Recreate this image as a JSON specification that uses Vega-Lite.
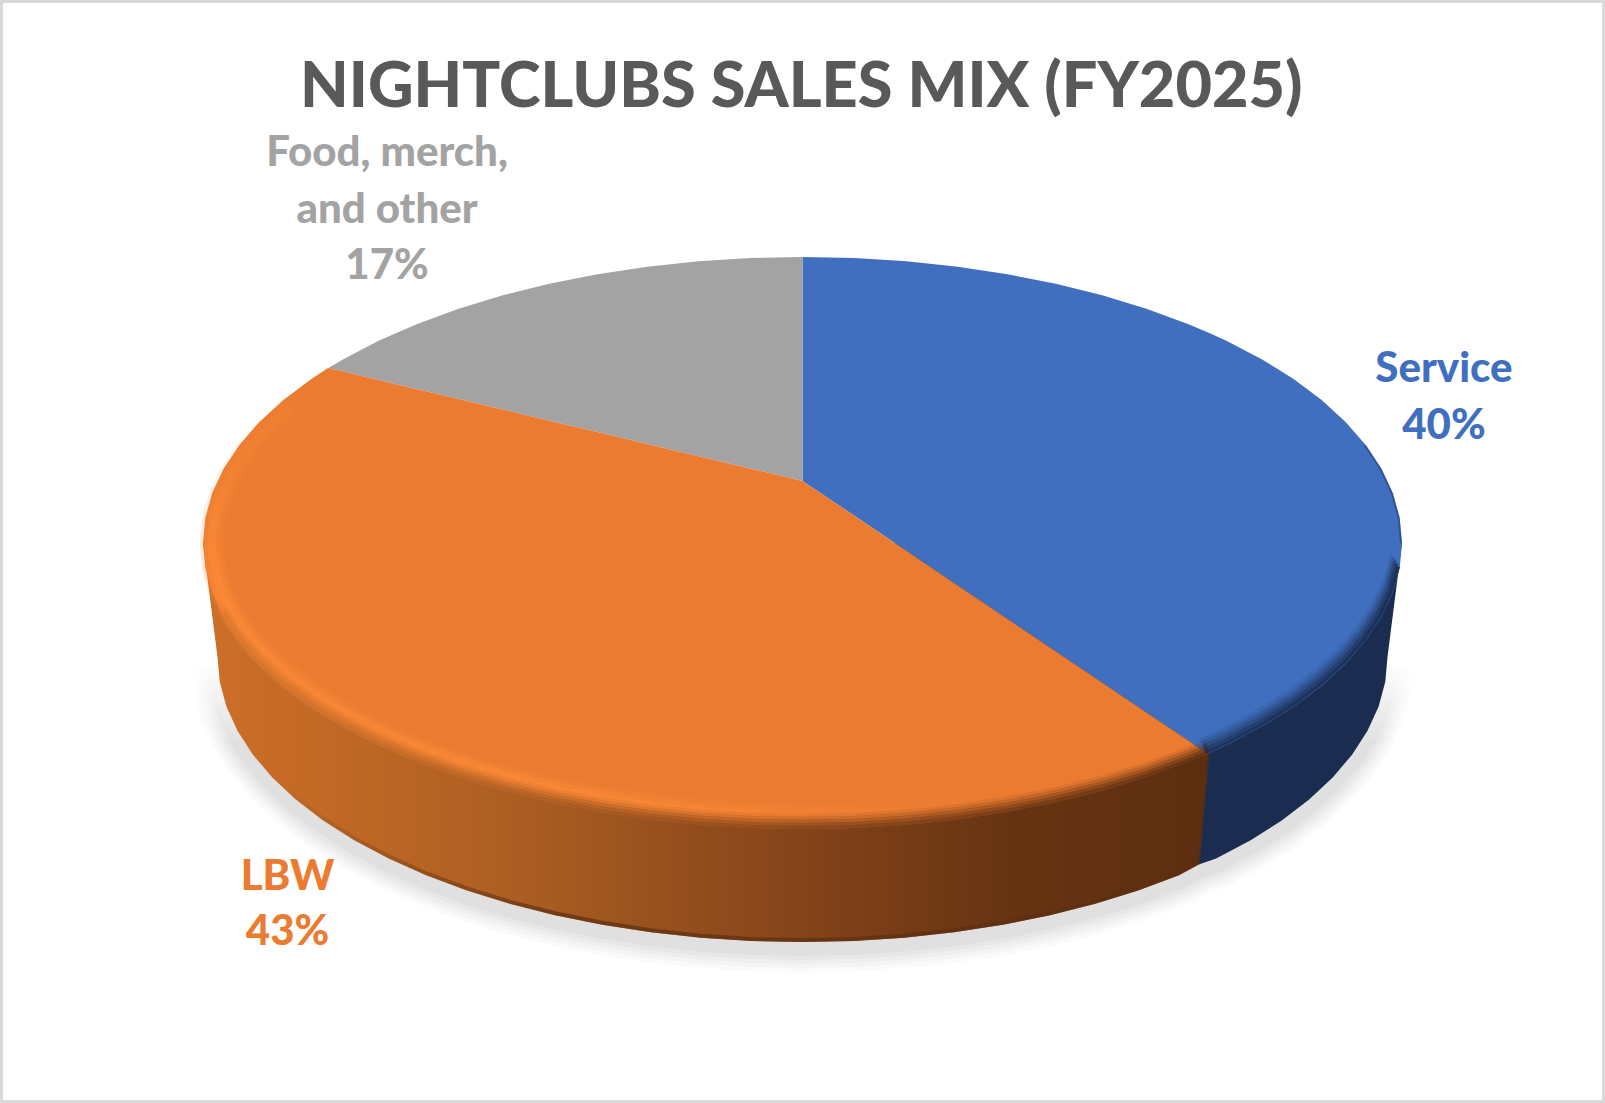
{
  "$schema": "https://vega.github.io/schema/vega-lite/v6.json",
  "width": 1605,
  "height": 1103,
  "padding": 0,
  "autosize": {"type": "fit", "contains": "padding"},
  "background": "white",
  "config": {"view": {"stroke": "#d9d9d9", "strokeWidth": 6}, "axis": {"disable": true}},
  "datasets": {
    "slices": [
      {"slice": "Service", "u": 0, "hi": 1, "lo": 0.217},
      {"slice": "Service", "u": 0.0872, "hi": 0.9962, "lo": 0.094},
      {"slice": "Service", "u": 0.1736, "hi": 0.9848, "lo": -0.0279},
      {"slice": "Service", "u": 0.2588, "hi": 0.9659, "lo": -0.1482},
      {"slice": "Service", "u": 0.342, "hi": 0.9397, "lo": -0.2656},
      {"slice": "Service", "u": 0.4226, "hi": 0.9063, "lo": -0.3793},
      {"slice": "Service", "u": 0.5, "hi": 0.866, "lo": -0.4885},
      {"slice": "Service", "u": 0.5736, "hi": 0.8192, "lo": -0.5923},
      {"slice": "Service", "u": 0.6428, "hi": 0.766, "lo": -0.69},
      {"slice": "Service", "u": 0.6756, "hi": 0.7373, "lo": -0.7373},
      {"slice": "Service", "u": 0.7071, "hi": 0.7071, "lo": -0.7071},
      {"slice": "Service", "u": 0.766, "hi": 0.6428, "lo": -0.6428},
      {"slice": "Service", "u": 0.8192, "hi": 0.5736, "lo": -0.5736},
      {"slice": "Service", "u": 0.866, "hi": 0.5, "lo": -0.5},
      {"slice": "Service", "u": 0.9063, "hi": 0.4226, "lo": -0.4226},
      {"slice": "Service", "u": 0.9397, "hi": 0.342, "lo": -0.342},
      {"slice": "Service", "u": 0.9659, "hi": 0.2588, "lo": -0.2588},
      {"slice": "Service", "u": 0.9848, "hi": 0.1736, "lo": -0.1736},
      {"slice": "Service", "u": 0.9962, "hi": 0.0872, "lo": -0.0872},
      {"slice": "Service", "u": 1, "hi": 0, "lo": 0},
      {"slice": "Food", "u": -0.7915, "hi": 0.6112, "lo": 0.612},
      {"slice": "Food", "u": -0.766, "hi": 0.6428, "lo": 0.5993},
      {"slice": "Food", "u": -0.7071, "hi": 0.7071, "lo": 0.5699},
      {"slice": "Food", "u": -0.6428, "hi": 0.766, "lo": 0.5378},
      {"slice": "Food", "u": -0.5736, "hi": 0.8192, "lo": 0.5033},
      {"slice": "Food", "u": -0.5, "hi": 0.866, "lo": 0.4666},
      {"slice": "Food", "u": -0.4226, "hi": 0.9063, "lo": 0.4279},
      {"slice": "Food", "u": -0.342, "hi": 0.9397, "lo": 0.3877},
      {"slice": "Food", "u": -0.2588, "hi": 0.9659, "lo": 0.3462},
      {"slice": "Food", "u": -0.1736, "hi": 0.9848, "lo": 0.3036},
      {"slice": "Food", "u": -0.0872, "hi": 0.9962, "lo": 0.2605},
      {"slice": "Food", "u": 0, "hi": 1, "lo": 0.217},
      {"slice": "LBW", "u": -1, "hi": 0, "lo": 0},
      {"slice": "LBW", "u": -0.9962, "hi": 0.0872, "lo": -0.0872},
      {"slice": "LBW", "u": -0.9848, "hi": 0.1736, "lo": -0.1736},
      {"slice": "LBW", "u": -0.9659, "hi": 0.2588, "lo": -0.2588},
      {"slice": "LBW", "u": -0.9397, "hi": 0.342, "lo": -0.342},
      {"slice": "LBW", "u": -0.9063, "hi": 0.4226, "lo": -0.4226},
      {"slice": "LBW", "u": -0.866, "hi": 0.5, "lo": -0.5},
      {"slice": "LBW", "u": -0.8192, "hi": 0.5736, "lo": -0.5736},
      {"slice": "LBW", "u": -0.7915, "hi": 0.612, "lo": -0.6112},
      {"slice": "LBW", "u": -0.766, "hi": 0.5993, "lo": -0.6428},
      {"slice": "LBW", "u": -0.7071, "hi": 0.5699, "lo": -0.7071},
      {"slice": "LBW", "u": -0.6428, "hi": 0.5378, "lo": -0.766},
      {"slice": "LBW", "u": -0.5736, "hi": 0.5033, "lo": -0.8192},
      {"slice": "LBW", "u": -0.5, "hi": 0.4666, "lo": -0.866},
      {"slice": "LBW", "u": -0.4226, "hi": 0.4279, "lo": -0.9063},
      {"slice": "LBW", "u": -0.342, "hi": 0.3877, "lo": -0.9397},
      {"slice": "LBW", "u": -0.2588, "hi": 0.3462, "lo": -0.9659},
      {"slice": "LBW", "u": -0.1736, "hi": 0.3036, "lo": -0.9848},
      {"slice": "LBW", "u": -0.0872, "hi": 0.2605, "lo": -0.9962},
      {"slice": "LBW", "u": 0, "hi": 0.217, "lo": -1},
      {"slice": "LBW", "u": 0.0872, "hi": 0.094, "lo": -0.9962},
      {"slice": "LBW", "u": 0.1736, "hi": -0.0279, "lo": -0.9848},
      {"slice": "LBW", "u": 0.2588, "hi": -0.1482, "lo": -0.9659},
      {"slice": "LBW", "u": 0.342, "hi": -0.2656, "lo": -0.9397},
      {"slice": "LBW", "u": 0.4226, "hi": -0.3793, "lo": -0.9063},
      {"slice": "LBW", "u": 0.5, "hi": -0.4885, "lo": -0.866},
      {"slice": "LBW", "u": 0.5736, "hi": -0.5923, "lo": -0.8192},
      {"slice": "LBW", "u": 0.6428, "hi": -0.69, "lo": -0.766},
      {"slice": "LBW", "u": 0.6756, "hi": -0.7373, "lo": -0.7373}
    ],
    "side": [
      {"part": "blue", "u": 0.6597, "v": -1.125, "base": 0},
      {"part": "blue", "u": 0.69, "v": -1.1032, "base": 0},
      {"part": "blue", "u": 0.7475, "v": -1.0392, "base": 0},
      {"part": "blue", "u": 0.7994, "v": -0.9702, "base": 0},
      {"part": "blue", "u": 0.8451, "v": -0.8969, "base": 0},
      {"part": "blue", "u": 0.8844, "v": -0.8197, "base": 0},
      {"part": "blue", "u": 0.917, "v": -0.7394, "base": 0},
      {"part": "blue", "u": 0.9425, "v": -0.6565, "base": 0},
      {"part": "blue", "u": 0.961, "v": -0.5716, "base": 0},
      {"part": "blue", "u": 0.9721, "v": -0.4855, "base": 0},
      {"part": "blue", "u": 0.9758, "v": -0.3986, "base": 0},
      {"part": "blue", "u": 1, "v": 0, "base": 0},
      {"part": "orange", "u": -1, "v": 0, "base": 0},
      {"part": "orange", "u": -0.9758, "v": -0.3986, "base": 0},
      {"part": "orange", "u": -0.9721, "v": -0.4855, "base": 0},
      {"part": "orange", "u": -0.961, "v": -0.5716, "base": 0},
      {"part": "orange", "u": -0.9425, "v": -0.6565, "base": 0},
      {"part": "orange", "u": -0.917, "v": -0.7394, "base": 0},
      {"part": "orange", "u": -0.8844, "v": -0.8197, "base": 0},
      {"part": "orange", "u": -0.8451, "v": -0.8969, "base": 0},
      {"part": "orange", "u": -0.7994, "v": -0.9702, "base": 0},
      {"part": "orange", "u": -0.7475, "v": -1.0392, "base": 0},
      {"part": "orange", "u": -0.69, "v": -1.1032, "base": 0},
      {"part": "orange", "u": -0.6272, "v": -1.1619, "base": 0},
      {"part": "orange", "u": -0.5597, "v": -1.2149, "base": 0},
      {"part": "orange", "u": -0.4879, "v": -1.2616, "base": 0},
      {"part": "orange", "u": -0.4124, "v": -1.3017, "base": 0},
      {"part": "orange", "u": -0.3337, "v": -1.335, "base": 0},
      {"part": "orange", "u": -0.2525, "v": -1.3611, "base": 0},
      {"part": "orange", "u": -0.1694, "v": -1.38, "base": 0},
      {"part": "orange", "u": -0.0851, "v": -1.3913, "base": 0},
      {"part": "orange", "u": 0, "v": -1.3951, "base": 0},
      {"part": "orange", "u": 0.0851, "v": -1.3913, "base": 0},
      {"part": "orange", "u": 0.1694, "v": -1.38, "base": 0},
      {"part": "orange", "u": 0.2525, "v": -1.3611, "base": 0},
      {"part": "orange", "u": 0.3337, "v": -1.335, "base": 0},
      {"part": "orange", "u": 0.4124, "v": -1.3017, "base": 0},
      {"part": "orange", "u": 0.4879, "v": -1.2616, "base": 0},
      {"part": "orange", "u": 0.5597, "v": -1.2149, "base": 0},
      {"part": "orange", "u": 0.6272, "v": -1.1619, "base": 0},
      {"part": "orange", "u": 0.6597, "v": -1.125, "base": 0},
      {"part": "orange", "u": 0.6756, "v": -0.7373, "base": 0}
    ],
    "highlight": [
      {"a": 150, "u": -0.853, "v": 0.475},
      {"a": 160, "u": -0.9256, "v": 0.325},
      {"a": 170, "u": -0.97, "v": 0.165},
      {"a": 180, "u": -0.985, "v": 0},
      {"a": 190, "u": -0.97, "v": -0.165},
      {"a": 200, "u": -0.9256, "v": -0.325},
      {"a": 210, "u": -0.853, "v": -0.475},
      {"a": 220, "u": -0.7545, "v": -0.6107},
      {"a": 230, "u": -0.6332, "v": -0.7277},
      {"a": 240, "u": -0.4925, "v": -0.8227},
      {"a": 250, "u": -0.3369, "v": -0.8927},
      {"a": 260, "u": -0.171, "v": -0.9356},
      {"a": 270, "u": 0, "v": -0.95},
      {"a": 280, "u": 0.171, "v": -0.9356},
      {"a": 290, "u": 0.3369, "v": -0.8927},
      {"a": 300, "u": 0.4925, "v": -0.8227}
    ],
    "labels": [
      {"slice": "Food", "text": "Food, merch,", "u": -0.693, "v": 1.362},
      {"slice": "Food", "text": "and other", "u": -0.693, "v": 1.165},
      {"slice": "Food", "text": "17%", "u": -0.693, "v": 0.969},
      {"slice": "Service", "text": "Service", "u": 1.07, "v": 0.607},
      {"slice": "Service", "text": "40%", "u": 1.07, "v": 0.41},
      {"slice": "LBW", "text": "LBW", "u": -0.859, "v": -1.168},
      {"slice": "LBW", "text": "43%", "u": -0.859, "v": -1.361}
    ],
    "heading": [
      {"text": "NIGHTCLUBS SALES MIX (FY2025)", "u": -0.002, "v": 1.59}
    ]
  },
  "encoding": {
    "x": {"field": "u", "type": "quantitative", "axis": null, "scale": {"domain": [-1.3386, 1.3386], "nice": false, "zero": false}},
    "y": {"field": "v", "type": "quantitative", "axis": null, "scale": {"domain": [-1.958, 1.8986], "nice": false, "zero": false}}
  },
  "layer": [
    {"data": {"name": "side"}, "transform": [{"filter": "abs(datum.u) < 0.98 && datum.u != 0.6756"}], "mark": {"type": "line", "strokeWidth": 54, "opacity": 0.02, "yOffset": 3, "strokeCap": "butt", "stroke": {"gradient": "linear", "x1": 0, "x2": 0, "y1": 0, "y2": 1, "stops": [{"offset": 0, "color": "rgba(0,0,0,0)"}, {"offset": 0.3, "color": "black"}]}}},
    {"data": {"name": "side"}, "transform": [{"filter": "abs(datum.u) < 0.98 && datum.u != 0.6756"}], "mark": {"type": "line", "strokeWidth": 46, "opacity": 0.025, "yOffset": 3, "strokeCap": "butt", "stroke": {"gradient": "linear", "x1": 0, "x2": 0, "y1": 0, "y2": 1, "stops": [{"offset": 0, "color": "rgba(0,0,0,0)"}, {"offset": 0.3, "color": "black"}]}}},
    {"data": {"name": "side"}, "transform": [{"filter": "abs(datum.u) < 0.98 && datum.u != 0.6756"}], "mark": {"type": "line", "strokeWidth": 38, "opacity": 0.025, "yOffset": 3, "strokeCap": "butt", "stroke": {"gradient": "linear", "x1": 0, "x2": 0, "y1": 0, "y2": 1, "stops": [{"offset": 0, "color": "rgba(0,0,0,0)"}, {"offset": 0.3, "color": "black"}]}}},
    {"data": {"name": "side"}, "transform": [{"filter": "abs(datum.u) < 0.98 && datum.u != 0.6756"}], "mark": {"type": "line", "strokeWidth": 30, "opacity": 0.03, "yOffset": 3, "strokeCap": "butt", "stroke": {"gradient": "linear", "x1": 0, "x2": 0, "y1": 0, "y2": 1, "stops": [{"offset": 0, "color": "rgba(0,0,0,0)"}, {"offset": 0.3, "color": "black"}]}}},
    {"data": {"name": "side"}, "transform": [{"filter": "abs(datum.u) < 0.98 && datum.u != 0.6756"}], "mark": {"type": "line", "strokeWidth": 22, "opacity": 0.03, "yOffset": 3, "strokeCap": "butt", "stroke": {"gradient": "linear", "x1": 0, "x2": 0, "y1": 0, "y2": 1, "stops": [{"offset": 0, "color": "rgba(0,0,0,0)"}, {"offset": 0.3, "color": "black"}]}}},
    {
      "data": {"name": "side"},
      "transform": [{"filter": "datum.part == 'blue'"}],
      "mark": {"type": "area", "fill": "#1A2D50"},
      "encoding": {"y2": {"field": "base"}}
    },
    {
      "data": {"name": "side"},
      "transform": [{"filter": "datum.part == 'orange'"}],
      "mark": {
        "type": "area",
        "fill": {
          "gradient": "linear", "x1": 0, "x2": 1, "y1": 0, "y2": 0,
          "stops": [
            {"offset": 0, "color": "#CC6F29"},
            {"offset": 0.1, "color": "#C46A26"},
            {"offset": 0.3, "color": "#AD5F22"},
            {"offset": 0.6, "color": "#84431A"},
            {"offset": 0.8, "color": "#673412"},
            {"offset": 1, "color": "#5C2E10"}
          ]
        }
      },
      "encoding": {"y2": {"field": "base"}}
    },
    {
      "data": {"name": "side"},
      "transform": [{"filter": "datum.part == 'orange' && abs(datum.u) < 0.89"}],
      "mark": {"type": "line", "strokeWidth": 4, "opacity": 0.7, "yOffset": -2, "stroke": {"gradient": "linear", "x1": 0, "x2": 1, "y1": 0, "y2": 0, "stops": [{"offset": 0, "color": "rgba(92,46,16,0)"}, {"offset": 0.3, "color": "#5C2E10"}, {"offset": 1, "color": "#5C2E10"}]}}
    },
    {
      "data": {"name": "slices"},
      "mark": {"type": "area"},
      "encoding": {
        "y": {"field": "hi", "type": "quantitative", "axis": null},
        "y2": {"field": "lo"},
        "color": {"field": "slice", "type": "nominal", "legend": null, "scale": {"domain": ["Service", "LBW", "Food"], "range": ["#406FBF", "#EA7B30", "#A3A3A3"]}}
      }
    },
    {"data": {"name": "highlight"}, "mark": {"type": "line", "interpolate": "cardinal", "strokeWidth": 24, "opacity": 0.22, "strokeCap": "butt", "stroke": {"gradient": "linear", "x1": 0, "y1": 0, "x2": 1, "y2": 1, "stops": [{"offset": 0, "color": "rgba(255,140,55,0)"}, {"offset": 0.2, "color": "#FF8C37"}, {"offset": 0.7, "color": "#FF8C37"}, {"offset": 0.92, "color": "rgba(255,140,55,0)"}]}}, "encoding": {"order": {"field": "a"}}},
    {"data": {"name": "highlight"}, "mark": {"type": "line", "interpolate": "cardinal", "strokeWidth": 16, "opacity": 0.35, "strokeCap": "butt", "stroke": {"gradient": "linear", "x1": 0, "y1": 0, "x2": 1, "y2": 1, "stops": [{"offset": 0, "color": "rgba(255,140,55,0)"}, {"offset": 0.2, "color": "#FF8C37"}, {"offset": 0.7, "color": "#FF8C37"}, {"offset": 0.92, "color": "rgba(255,140,55,0)"}]}}, "encoding": {"order": {"field": "a"}}},
    {"data": {"name": "highlight"}, "mark": {"type": "line", "interpolate": "cardinal", "strokeWidth": 8, "opacity": 0.5, "strokeCap": "butt", "stroke": {"gradient": "linear", "x1": 0, "y1": 0, "x2": 1, "y2": 1, "stops": [{"offset": 0, "color": "rgba(255,140,55,0)"}, {"offset": 0.2, "color": "#FF8C37"}, {"offset": 0.7, "color": "#FF8C37"}, {"offset": 0.92, "color": "rgba(255,140,55,0)"}]}}, "encoding": {"order": {"field": "a"}}},
    {
      "data": {"name": "slices"},
      "transform": [{"filter": "datum.slice == 'LBW' && datum.u > -0.97"}],
      "mark": {"type": "line", "strokeWidth": 3.5, "opacity": 0.12, "yOffset": -13.5, "stroke": {"gradient": "linear", "x1": 0, "x2": 1, "y1": 0, "y2": 0, "stops": [{"offset": 0, "color": "#E07A2E"}, {"offset": 0.3, "color": "#AD5F22"}, {"offset": 0.6, "color": "#84431A"}, {"offset": 1, "color": "#5C2E10"}]}},
      "encoding": {"y": {"field": "lo", "type": "quantitative", "axis": null}}
    },
    {
      "data": {"name": "slices"},
      "transform": [{"filter": "datum.slice == 'LBW' && datum.u > -0.97"}],
      "mark": {"type": "line", "strokeWidth": 3.5, "opacity": 0.3, "yOffset": -10.5, "stroke": {"gradient": "linear", "x1": 0, "x2": 1, "y1": 0, "y2": 0, "stops": [{"offset": 0, "color": "#E07A2E"}, {"offset": 0.3, "color": "#AD5F22"}, {"offset": 0.6, "color": "#84431A"}, {"offset": 1, "color": "#5C2E10"}]}},
      "encoding": {"y": {"field": "lo", "type": "quantitative", "axis": null}}
    },
    {
      "data": {"name": "slices"},
      "transform": [{"filter": "datum.slice == 'LBW' && datum.u > -0.97"}],
      "mark": {"type": "line", "strokeWidth": 3.5, "opacity": 0.5, "yOffset": -7.5, "stroke": {"gradient": "linear", "x1": 0, "x2": 1, "y1": 0, "y2": 0, "stops": [{"offset": 0, "color": "#E07A2E"}, {"offset": 0.3, "color": "#AD5F22"}, {"offset": 0.6, "color": "#84431A"}, {"offset": 1, "color": "#5C2E10"}]}},
      "encoding": {"y": {"field": "lo", "type": "quantitative", "axis": null}}
    },
    {
      "data": {"name": "slices"},
      "transform": [{"filter": "datum.slice == 'LBW' && datum.u > -0.97"}],
      "mark": {"type": "line", "strokeWidth": 3.5, "opacity": 0.72, "yOffset": -4.5, "stroke": {"gradient": "linear", "x1": 0, "x2": 1, "y1": 0, "y2": 0, "stops": [{"offset": 0, "color": "#E07A2E"}, {"offset": 0.3, "color": "#AD5F22"}, {"offset": 0.6, "color": "#84431A"}, {"offset": 1, "color": "#5C2E10"}]}},
      "encoding": {"y": {"field": "lo", "type": "quantitative", "axis": null}}
    },
    {
      "data": {"name": "slices"},
      "transform": [{"filter": "datum.slice == 'LBW' && datum.u > -0.97"}],
      "mark": {"type": "line", "strokeWidth": 3.5, "opacity": 0.9, "yOffset": -1.5, "stroke": {"gradient": "linear", "x1": 0, "x2": 1, "y1": 0, "y2": 0, "stops": [{"offset": 0, "color": "#E07A2E"}, {"offset": 0.3, "color": "#AD5F22"}, {"offset": 0.6, "color": "#84431A"}, {"offset": 1, "color": "#5C2E10"}]}},
      "encoding": {"y": {"field": "lo", "type": "quantitative", "axis": null}}
    },
    {
      "data": {"name": "slices"},
      "transform": [{"filter": "datum.slice == 'Service' && datum.u >= 0.6756 && datum.u < 0.999"}],
      "mark": {"type": "line", "stroke": "#1A2D50", "strokeWidth": 3.5, "opacity": 0.12, "yOffset": -13.5, "xOffset": -8},
      "encoding": {"y": {"field": "lo", "type": "quantitative", "axis": null}}
    },
    {
      "data": {"name": "slices"},
      "transform": [{"filter": "datum.slice == 'Service' && datum.u >= 0.6756 && datum.u < 0.999"}],
      "mark": {"type": "line", "stroke": "#1A2D50", "strokeWidth": 3.5, "opacity": 0.3, "yOffset": -10.5, "xOffset": -6},
      "encoding": {"y": {"field": "lo", "type": "quantitative", "axis": null}}
    },
    {
      "data": {"name": "slices"},
      "transform": [{"filter": "datum.slice == 'Service' && datum.u >= 0.6756 && datum.u < 0.999"}],
      "mark": {"type": "line", "stroke": "#1A2D50", "strokeWidth": 3.5, "opacity": 0.5, "yOffset": -7.5, "xOffset": -4.5},
      "encoding": {"y": {"field": "lo", "type": "quantitative", "axis": null}}
    },
    {
      "data": {"name": "slices"},
      "transform": [{"filter": "datum.slice == 'Service' && datum.u >= 0.6756 && datum.u < 0.999"}],
      "mark": {"type": "line", "stroke": "#1A2D50", "strokeWidth": 3.5, "opacity": 0.72, "yOffset": -4.5, "xOffset": -3},
      "encoding": {"y": {"field": "lo", "type": "quantitative", "axis": null}}
    },
    {
      "data": {"name": "slices"},
      "transform": [{"filter": "datum.slice == 'Service' && datum.u >= 0.6756 && datum.u < 0.999"}],
      "mark": {"type": "line", "stroke": "#1A2D50", "strokeWidth": 3.5, "opacity": 0.9, "yOffset": -1.5, "xOffset": -1.5},
      "encoding": {"y": {"field": "lo", "type": "quantitative", "axis": null}}
    },
    {
      "data": {"name": "slices"},
      "transform": [{"filter": "datum.slice == 'Service' && datum.u >= 0.93"}],
      "mark": {"type": "line", "stroke": "#1A2D50", "strokeWidth": 2, "opacity": 0.4, "xOffset": -1},
      "encoding": {"y": {"field": "hi", "type": "quantitative", "axis": null}}
    },
    {
      "data": {"name": "labels"},
      "mark": {"type": "text", "font": "Lato", "fontWeight": 900, "fontSize": 42, "align": "center", "baseline": "middle"},
      "encoding": {
        "text": {"field": "text"},
        "color": {"field": "slice", "type": "nominal", "legend": null, "scale": {"domain": ["Service", "LBW", "Food"], "range": ["#406FBF", "#EA7B30", "#A3A3A3"]}}
      }
    },
    {
      "data": {"name": "heading"},
      "mark": {"type": "text", "font": "Lato", "fontWeight": 900, "fontSize": 63, "align": "center", "baseline": "middle", "color": "#595959"},
      "encoding": {"text": {"field": "text"}}
    }
  ]
}
